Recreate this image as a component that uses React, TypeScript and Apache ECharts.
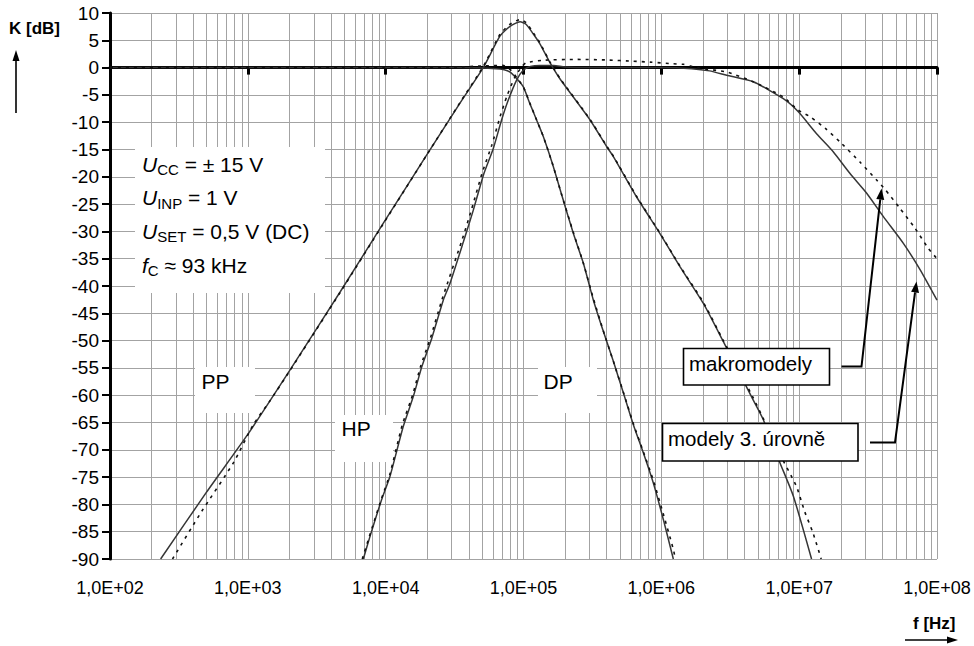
import { useEffect, useRef } from 'react';
import * as echarts from 'echarts';

const FONT = "'Liberation Sans', Arial, Helvetica, sans-serif";

// ---- axes ----
const yMin = -90;
const yMax = 10;
const yStep = 5;
const xMin = 1e2;
const xMax = 1e8;
const xTickLabels = ['1,0E+02', '1,0E+03', '1,0E+04', '1,0E+05', '1,0E+06', '1,0E+07', '1,0E+08'];
const minorDecades = [1e2, 1e3, 1e4, 1e5, 1e6, 1e7];
const minorMultipliers = [2, 3, 4, 5, 6, 7, 8, 9];

// ---- data: [f (Hz), K (dB)] ----
// PP (pasmova propust)
const ppModely3: [number, number][] = [
  [233, -90], [500, -77.8], [1010, -67.0], [2020, -55.4], [4670, -41.1],
  [9620, -28.5], [19860, -16.0], [35650, -6.0], [51050, 0], [67610, 5.8], [79430, 7.5], [94410, 8.4],
  [104700, 7.9], [117500, 6.2], [131200, 4.4], [154900, 1.0], [183200, -2.0], [304100, -9.6],
  [401800, -14.5], [448700, -16.3], [662200, -23.7], [977200, -30.4], [1.368e6, -36.5], [2.018e6, -43.2],
  [2.818e6, -50.2], [4.645e6, -60.9], [5.495e6, -64.5], [7.261e6, -72.4], [9.078e6, -78.5], [1.23e7, -90],
];
const ppMakro: [number, number][] = [
  [284, -90], [462, -81.3], [785, -72.4], [1096, -65.4], [1450, -61.0], [2020, -55.5], [4670, -41.2],
  [9620, -28.6], [19860, -16.0], [35650, -5.9], [51050, 0.2], [67610, 6.1], [79430, 7.9], [94410, 8.8],
  [104700, 8.2], [117500, 6.4], [131200, 4.6], [154900, 1.1], [183200, -1.9], [304100, -9.5],
  [401800, -14.4], [448700, -16.2], [662200, -23.6], [977200, -30.3], [1.368e6, -36.4], [2.018e6, -43.0],
  [2.818e6, -50.0], [4.645e6, -60.5], [5.495e6, -64.3], [7.244e6, -70.8], [9.55e6, -76.7], [1.096e7, -81.3],
  [1.259e7, -85.2], [1.445e7, -90],
];
// HP (horni propust)
const hpModely3: [number, number][] = [
  [6887, -90], [7691, -85.9], [9354, -79.1], [10740, -74.9], [13430, -65.7], [15890, -60.2], [18280, -54.8],
  [21580, -49.6], [26180, -42.6], [29310, -39.5], [36640, -31.9], [43250, -26.1], [51170, -19.7],
  [60390, -14.8], [69340, -9.6], [77450, -6.0], [89130, -2.3], [99540, -0.5], [112200, 0.2], [131800, 0.4],
  [166000, 0.4], [199500, 0.1], [316200, 0], [1e6, 0], [1.66e6, -0.2], [2.239e6, -0.6], [2.979e6, -1.4],
  [4.645e6, -2.6], [7.674e6, -5.7], [9.863e6, -8.1], [1.337e7, -12.1], [1.766e7, -15.4], [2.339e7, -19.4],
  [3.09e7, -23.0], [4.083e7, -27.3], [5.702e7, -32.2], [7.534e7, -37.0], [1e8, -42.6],
];
const hpMakro: [number, number][] = [
  [6761, -90], [7586, -86], [9226, -79.3], [10720, -74.5], [13180, -65.5], [15670, -60], [17990, -54.6],
  [21130, -49.5], [25700, -42.4], [35890, -31.5], [42170, -25.8], [50120, -19.3], [58880, -14.2],
  [67610, -9.0], [75860, -5.2], [87100, -1.6], [97720, 0.2], [104700, 0.9], [139600, 1.35], [242700, 1.5],
  [398100, 1.4], [626600, 1.17], [827900, 1.0], [1.222e6, 0.7], [1.445e6, 0.6], [1.622e6, 0.3],
  [1.995e6, -0.2], [2.979e6, -0.8], [4.645e6, -2.6], [7.674e6, -5.4], [9.863e6, -7.8], [1.2e7, -9.0],
  [1.542e7, -11.1], [2.032e7, -13.9], [2.761e7, -17.3], [3.648e7, -20.6], [4.198e7, -22.3], [5.395e7, -25.8],
  [6.918e7, -29.4], [8.65e7, -33.1], [1e8, -35.0],
];
// DP (dolni propust)
const dpModely3: [number, number][] = [
  [100, 0], [31620, 0], [63100, -0.2], [72440, -0.4], [79430, -0.8], [89130, -2.0], [99540, -3.5],
  [111200, -6.6], [124500, -9.6], [139600, -12.7], [162200, -17.6], [189200, -23.3], [230100, -30.4],
  [271600, -35.8], [321400, -42.6], [379300, -48.3], [448700, -53.8], [530900, -59.6], [626600, -65.4],
  [741300, -70.6], [875000, -76.1], [1.035e6, -82.8], [1.222e6, -90],
];
const dpMakro: [number, number][] = [
  [100, 0], [31620, 0.1], [50120, 0.3], [70790, 0.4], [81280, -0.5], [89130, -1.8], [100000, -3.6],
  [111200, -6.5], [124500, -9.6], [139600, -12.7], [162200, -17.6], [189200, -23.3], [230100, -30.2],
  [271600, -35.8], [321400, -42.3], [379300, -48.2], [448700, -53.8], [530900, -59.5], [626600, -65.2],
  [741300, -70.4], [875000, -75.6], [1.035e6, -81.8], [1.23e6, -88.5], [1.259e6, -90],
];

const GRID_COLOR = '#a3a3a3';
const SOLID_COLOR = '#363636';
const DOT_COLOR = '#111111';

function arrowHead(tip: [number, number], from: [number, number], len = 11, half = 4) {
  const dx = tip[0] - from[0];
  const dy = tip[1] - from[1];
  const d = Math.hypot(dx, dy);
  const ux = dx / d;
  const uy = dy / d;
  const bx = tip[0] - ux * len;
  const by = tip[1] - uy * len;
  return {
    base: [bx, by] as [number, number],
    points: [tip, [bx - uy * half, by + ux * half], [bx + uy * half, by - ux * half]],
  };
}

function leader(start: [number, number], corner: [number, number], tip: [number, number]) {
  const h = arrowHead(tip, corner);
  return [
    { type: 'polyline', z: 20, silent: true, shape: { points: [start, corner, h.base] }, style: { stroke: '#000', lineWidth: 2, fill: 'none' } },
    { type: 'polygon', z: 20, silent: true, shape: { points: h.points }, style: { fill: '#000' } },
  ];
}

function whiteBox(x: number, y: number, w: number, h: number) {
  return { type: 'rect', z: 1, silent: true, shape: { x, y, width: w, height: h }, style: { fill: '#fff' } };
}

function label(text: string, x: number, y: number, size = 21, z = 5) {
  return { type: 'text', z, silent: true, style: { text, x, y, fill: '#000', font: `${size}px ${FONT}`, align: 'left', verticalAlign: 'middle' } };
}

const richDef = {
  i: { fontFamily: FONT, fontSize: 21, fontStyle: 'italic', lineHeight: 26, fill: '#000' },
  s: { fontFamily: FONT, fontSize: 15, lineHeight: 15, verticalAlign: 'bottom', fill: '#000' },
  n: { fontFamily: FONT, fontSize: 21, lineHeight: 26, fill: '#000' },
};

function richLine(text: string, x: number, y: number) {
  return { type: 'text', z: 5, silent: true, style: { text, x, y, rich: richDef, align: 'left', verticalAlign: 'middle', fill: '#000' } };
}

function lineSeries(name: string, data: [number, number][], dotted: boolean) {
  return {
    name,
    type: 'line',
    data,
    showSymbol: false,
    symbol: 'none',
    smooth: 0.2,
    z: dotted ? 3 : 2,
    lineStyle: dotted
      ? { color: DOT_COLOR, width: 1.6, type: [3, 5] }
      : { color: SOLID_COLOR, width: 1.5, type: 'solid' },
    silent: true,
  };
}

export default function App() {
  const ref = useRef<HTMLDivElement>(null);

  useEffect(() => {
    if (!ref.current) return;
    const chart = echarts.init(ref.current, null, { renderer: 'svg' });

    const minorFreqs: [number, number][] = [];
    minorDecades.forEach((d) => minorMultipliers.forEach((m) => minorFreqs.push([d * m, yMin])));

    const xLabelFormatter = (v: number) => xTickLabels[Math.round(Math.log10(v)) - 2] ?? '';

    const graphic: any[] = [
      whiteBox(135, 147, 190, 146),
      whiteBox(195, 367, 60, 46),
      whiteBox(335, 415, 58, 47),
      whiteBox(538, 367, 59, 46),
      richLine('{i|U}{s|CC}{n| = ± 15 V}', 142, 164),
      richLine('{i|U}{s|INP}{n| = 1 V}', 142, 197.5),
      richLine('{i|U}{s|SET}{n| = 0,5 V (DC)}', 142, 231),
      richLine('{i|f}{s|C}{n| ≈ 93 kHz}', 142, 265),
      label('PP', 201.5, 381.5),
      label('HP', 341.5, 428.5),
      label('DP', 543.5, 381.5),
      // annotation boxes
      { type: 'rect', z: 20, silent: true, shape: { x: 683.5, y: 348.5, width: 146, height: 36.5 }, style: { fill: '#fff', stroke: '#000', lineWidth: 1.6 } },
      label('makromodely', 689, 363, 20.5, 22),
      { type: 'rect', z: 20, silent: true, shape: { x: 662.5, y: 423.5, width: 195.5, height: 37.5 }, style: { fill: '#fff', stroke: '#000', lineWidth: 1.6 } },
      label('modely 3. úrovně', 668, 438.5, 20.5, 22),
      ...leader([841.5, 366.5], [861.5, 366.5], [881.5, 188.5]),
      ...leader([870, 442.5], [895, 442.5], [916.5, 281.5]),
      // axis titles
      { type: 'text', z: 5, silent: true, style: { text: 'K [dB]', x: 9, y: 28.5, fill: '#000', font: `bold 17px ${FONT}`, align: 'left', verticalAlign: 'middle' } },
      ...(() => {
        const h = arrowHead([16, 50], [16, 113], 11, 3.5);
        return [
          { type: 'line', z: 5, silent: true, shape: { x1: 16, y1: 113, x2: h.base[0], y2: h.base[1] }, style: { stroke: '#000', lineWidth: 1.6 } },
          { type: 'polygon', z: 5, silent: true, shape: { points: h.points }, style: { fill: '#000' } },
        ];
      })(),
      { type: 'text', z: 5, silent: true, style: { text: 'f [Hz]', x: 913, y: 623, fill: '#000', font: `bold 17px ${FONT}`, align: 'left', verticalAlign: 'middle' } },
      ...(() => {
        const h = arrowHead([958, 640], [905, 640], 11, 3.5);
        return [
          { type: 'line', z: 5, silent: true, shape: { x1: 905, y1: 640, x2: h.base[0], y2: h.base[1] }, style: { stroke: '#000', lineWidth: 1.6 } },
          { type: 'polygon', z: 5, silent: true, shape: { points: h.points }, style: { fill: '#000' } },
        ];
      })(),
    ];

    const option: any = {
      animation: false,
      backgroundColor: '#fff',
      textStyle: { fontFamily: FONT },
      grid: { left: 110, top: 13, width: 827, height: 546, show: false, containLabel: false, outerBoundsMode: 'none' },
      xAxis: [
        {
          type: 'log', logBase: 10, min: xMin, max: xMax, splitNumber: 6, position: 'bottom',
          axisLine: { show: false, onZero: false },
          axisTick: { show: false },
          axisLabel: { color: '#000', fontSize: 18, fontFamily: FONT, margin: 20, formatter: xLabelFormatter, showMinLabel: true, showMaxLabel: true },
          splitLine: { show: true, lineStyle: { color: GRID_COLOR, width: 1 } },
          minorTick: { show: false }, minorSplitLine: { show: false },
        },
        {
          type: 'log', logBase: 10, min: xMin, max: xMax, splitNumber: 6, position: 'bottom',
          axisLine: { show: true, onZero: true, lineStyle: { color: '#000', width: 3 } },
          axisTick: { show: true, length: 7, lineStyle: { color: '#000', width: 3 } },
          axisLabel: { show: false },
          splitLine: { show: false },
        },
      ],
      yAxis: {
        type: 'value', min: yMin, max: yMax, interval: yStep, position: 'left',
        axisLine: { show: true, onZero: false, lineStyle: { color: '#000', width: 3 } },
        axisTick: { show: true, length: 8, lineStyle: { color: '#000', width: 2 } },
        axisLabel: { color: '#000', fontSize: 19, fontFamily: FONT, margin: 11 },
        splitLine: { show: true, lineStyle: { color: GRID_COLOR, width: 1 } },
      },
      series: [
        {
          type: 'custom',
          name: 'minor grid',
          silent: true,
          z: 0,
          clip: false,
          data: minorFreqs,
          renderItem: (_p: any, api: any) => {
            const f = api.value(0);
            const a = api.coord([f, yMax]);
            const b = api.coord([f, yMin]);
            const x = Math.round(a[0]) + 0.5;
            return { type: 'line', shape: { x1: x, y1: a[1], x2: x, y2: b[1] }, style: { stroke: GRID_COLOR, lineWidth: 1 } };
          },
        },
        lineSeries('PP – modely 3. úrovně', ppModely3, false),
        lineSeries('HP – modely 3. úrovně', hpModely3, false),
        lineSeries('DP – modely 3. úrovně', dpModely3, false),
        lineSeries('PP – makromodely', ppMakro, true),
        lineSeries('HP – makromodely', hpMakro, true),
        lineSeries('DP – makromodely', dpMakro, true),
      ],
      graphic,
    };

    chart.setOption(option);
    return () => chart.dispose();
  }, []);

  return (
    <div
      ref={ref}
      style={{ position: 'fixed', left: 0, top: 0, width: 974, height: 646, background: '#fff' }}
    />
  );
}
